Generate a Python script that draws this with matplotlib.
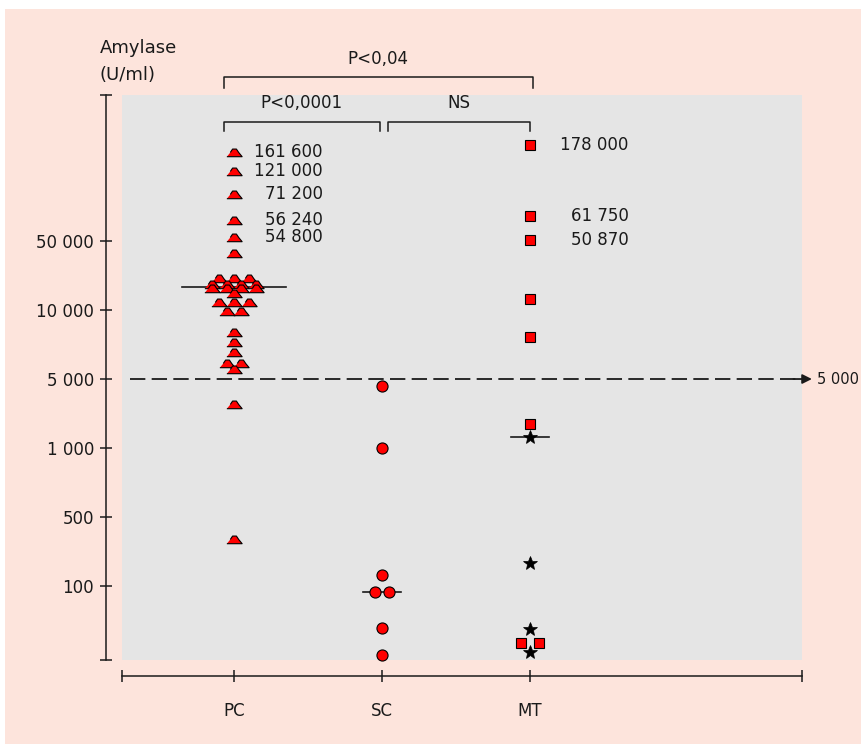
import numpy as np
import matplotlib.pyplot as plt
from matplotlib.patches import Rectangle

groups = ['PC', 'SC', 'MT']

pc_values = [161600, 121000, 71200, 56240, 54800, 38000,
             21000, 21000, 21000, 18300, 18300, 18300, 18300,
             16700, 16700, 16700, 16700, 14900, 12000, 12000, 12000,
             9900, 9900, 8000, 7250, 6550, 5850, 5850, 5550, 2800, 300]
sc_values = [4200, 1000, 130, 82, 82, 25, 10]
mt_squares = [178000, 61750, 50870, 13000, 7600, 1750, 15, 15]
mt_stars = [1300, 170, 24, 11]

medians = [17000, 82, 1300]
threshold = 5000

pc_labelled = [161600, 121000, 71200, 56240, 54800]
mt_labelled = [178000, 61750, 50870]

ytick_values = [100, 500, 1000, 5000, 10000, 50000]
ytick_labels = ['100', '500', '1 000', '5 000', '10 000', '50 000']

# the axis is not a plain log scale: equal steps between the labelled values,
# and a squeezed stretch above 50 000
scale_values = [1, 10, 100, 500, 1000, 5000, 10000, 50000, 55000, 56000,
                64000, 72000, 120000, 200000, 1000000]
scale_steps = [-2, -1, 0, 1, 2, 3, 4, 5, 5.06, 5.3, 5.38, 5.72, 6.0, 6.5, 8]
log_sv = np.log10(scale_values)


def fwd(v):
    v = np.clip(np.asarray(v, dtype=float), 1e-6, None)
    return np.interp(np.log10(v), log_sv, scale_steps)


def inv(p):
    return 10 ** np.interp(np.asarray(p, dtype=float), scale_steps, log_sv)


def spread(values, width):
    # put identical values side by side around the category centre
    values = np.asarray(values, dtype=float)
    off = np.zeros(len(values))
    for v in np.unique(values):
        idx = np.where(values == v)[0]
        off[idx] = (np.arange(len(idx)) - (len(idx) - 1) / 2) * width
    return off


def fmt(v):
    return f'{v:,}'.replace(',', ' ')


ink = '#1a1a1a'
plt.rcParams['font.family'] = 'DejaVu Sans'

fig = plt.figure(figsize=(8.62, 7.44), dpi=100)
fig.patches.append(Rectangle((5 / 862, 0), 1, 1 - 9 / 744, transform=fig.transFigure,
                             facecolor='#fde4dc', edgecolor='none', zorder=-10))

ax = fig.add_axes([122 / 862, 84 / 744, 680 / 862, 565 / 744])
ax.set_facecolor('#e5e5e5')
ax.set_yscale('function', functions=(fwd, inv))

mound = [(-1, -0.55), (1, -0.55), (0.55, 0.0), (0.25, 0.45), (-0.25, 0.45), (-0.55, 0.0)]
w = 0.1
xpos = [1, 2, 3]

ax.plot(xpos[0] + spread(pc_values, w), pc_values, linestyle='none', marker=mound,
        ms=11, mfc='red', mec='black', mew=0.8, zorder=4, clip_on=False)
ax.plot(xpos[1] + spread(sc_values, w), sc_values, linestyle='none', marker='o',
        ms=8, mfc='red', mec='black', mew=0.8, zorder=4, clip_on=False)
ax.plot(xpos[2] + spread(mt_squares, 0.12), mt_squares, linestyle='none', marker='s',
        ms=7.5, mfc='red', mec='black', mew=0.8, zorder=4, clip_on=False)
ax.plot(xpos[2] + spread(mt_stars, w), mt_stars, linestyle='none', marker='*',
        ms=10, mfc='black', mec='black', mew=0.5, zorder=4, clip_on=False)

half = [0.35, 0.13, 0.13]
for x, m, h in zip(xpos, medians, half):
    ax.plot([x - h, x + h], [m, m], color=ink, lw=1.2, zorder=3)

for v in pc_labelled:
    ax.annotate(fmt(v), xy=(xpos[0], v), xytext=(64, 0), textcoords='offset points',
                ha='right', va='center', fontsize=12, color=ink)
for v in mt_labelled:
    ax.annotate(fmt(v), xy=(xpos[2], v), xytext=(71, 0), textcoords='offset points',
                ha='right', va='center', fontsize=12, color=ink)

# threshold line with arrow
ax.plot([0.3, 4.8], [threshold, threshold], color=ink, lw=1.3, dashes=(8.5, 3.5),
        zorder=2, clip_on=False)
ax.annotate('', xy=(4.905, threshold), xytext=(4.78, threshold),
            arrowprops=dict(arrowstyle='-|>', color=ink, lw=1.3, mutation_scale=14,
                            shrinkA=0, shrinkB=0), annotation_clip=False)
ax.annotate(fmt(threshold), xy=(4.905, threshold), xytext=(3.5, 0), textcoords='offset points',
            ha='left', va='center', fontsize=10.5, color=ink, annotation_clip=False)

# significance brackets
tr = ax.get_xaxis_transform()
brackets = [(0.93, 3.02, 1.032, 1.012, 'P<0,04', 1.064),
            (0.93, 1.986, 0.952, 0.936, 'P<0,0001', 0.986),
            (2.04, 3.0, 0.952, 0.936, 'NS', 0.986)]
for x0, x1, yl, yt, label, ytx in brackets:
    ax.plot([x0, x0, x1, x1], [yt, yl, yl, yt], color=ink, lw=1.1, transform=tr, clip_on=False)
    ax.text((x0 + x1) / 2, ytx, label, transform=tr, ha='center', va='center',
            fontsize=12, color=ink)

ylo, yhi = inv(-1.072), inv(7.116)
ax.set_ylim(ylo, yhi)
ax.set_yticks([ylo] + ytick_values + [yhi])
ax.set_yticklabels([''] + ytick_labels + [''])
ax.minorticks_off()

xlo, xhi = 0.243, 4.838
ax.set_xlim(xlo, xhi)
ax.set_xticks([xlo] + xpos + [xhi])
ax.set_xticklabels([''] + groups + [''])

for side in ['top', 'right']:
    ax.spines[side].set_visible(False)
for side in ['left', 'bottom']:
    ax.spines[side].set_position(('outward', 11.5))
    ax.spines[side].set_linewidth(1.1)
    ax.spines[side].set_color(ink)

ax.tick_params(direction='inout', length=9, width=1.1, colors=ink, labelsize=12)
ax.tick_params(axis='x', pad=14)
ax.tick_params(axis='y', pad=4)

fig.text(100 / 862, 1 - 48 / 744, 'Amylase', ha='left', va='center', fontsize=13, color=ink)
fig.text(100 / 862, 1 - 75 / 744, '(U/ml)', ha='left', va='center', fontsize=13, color=ink)

fig.savefig('out.png', dpi=100, facecolor='white')
